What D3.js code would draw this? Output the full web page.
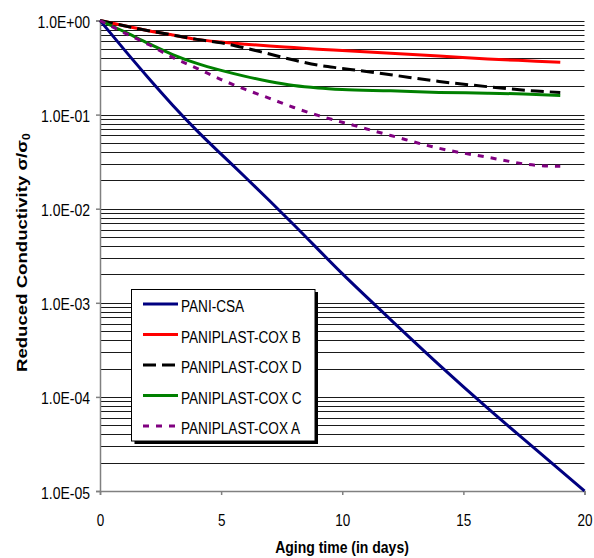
<!DOCTYPE html>
<html>
<head>
<meta charset="utf-8">
<script src="https://cdn.jsdelivr.net/npm/d3@7"></script>
<style>
  html, body { margin: 0; padding: 0; background: #fff; }
  svg { display: block; }
  text { font-family: "Liberation Sans", Arial, sans-serif; fill: #000; }
</style>
</head>
<body>
<svg id="chart" width="594" height="558"></svg>
<script>
// ---- data ----
const xTicks = [0, 5, 10, 15, 20];
const xTickLabels = ["0", "5", "10", "15", "20"];
const yTicks = [1e-5, 1e-4, 1e-3, 1e-2, 1e-1, 1];
const yTickLabels = ["1.0E-05", "1.0E-04", "1.0E-03", "1.0E-02", "1.0E-01", "1.0E+00"];

const csaDays = [0, 1, 2, 3, 4, 5, 6, 7, 8, 10, 12, 14, 16, 18, 20];
const csaValues = [1, 0.49, 0.245, 0.126, 0.0676, 0.038, 0.0216, 0.01216, 0.00676, 0.00204, 0.000661, 0.000219, 0.0000759, 0.0000275, 0.00001];

const coxDays = [0, 1, 2, 3, 4, 5, 6, 7, 8, 9, 10, 12, 14, 16, 18, 19];
const coxBValues = [1, 0.88, 0.78, 0.70, 0.63, 0.59, 0.56, 0.535, 0.515, 0.495, 0.48, 0.45, 0.42, 0.39, 0.37, 0.36];
const coxDValues = [1, 0.88, 0.78, 0.70, 0.63, 0.58, 0.51, 0.44, 0.38, 0.335, 0.31, 0.265, 0.225, 0.198, 0.178, 0.172];
const coxCValues = [1, 0.76, 0.57, 0.435, 0.35, 0.295, 0.255, 0.225, 0.204, 0.192, 0.185, 0.179, 0.172, 0.169, 0.164, 0.16];
const coxAValues = [1, 0.74, 0.556, 0.405, 0.31, 0.236, 0.185, 0.149, 0.119, 0.098, 0.083, 0.060, 0.0438, 0.0352, 0.0289, 0.0282];

const seriesNames = ["PANI-CSA", "PANIPLAST-COX B", "PANIPLAST-COX D", "PANIPLAST-COX C", "PANIPLAST-COX A"];

// ---- build ----
const series = [
  { name: seriesNames[0], days: csaDays, values: csaValues, color: "#000080", dash: null },
  { name: seriesNames[1], days: coxDays, values: coxBValues, color: "#ff0000", dash: null },
  { name: seriesNames[2], days: coxDays, values: coxDValues, color: "#000000", dash: "13,6" },
  { name: seriesNames[3], days: coxDays, values: coxCValues, color: "#008000", dash: null },
  { name: seriesNames[4], days: coxDays, values: coxAValues, color: "#800080", dash: "6,7" }
];

const svg = d3.select("#chart");
const x = d3.scaleLinear().domain([0, 20]).range([100, 584.5]);
const y = d3.scaleLog().domain([1e-5, 1]).range([491, 20.5]);

// gridlines (major + minor)
const gridVals = [];
for (let e = -5; e < 0; e++) for (let k = 1; k <= 9; k++) gridVals.push(k * Math.pow(10, e));
gridVals.push(1);
svg.append("g").selectAll("line").data(gridVals).join("line")
  .attr("x1", x(0)).attr("x2", x(20))
  .attr("y1", d => Math.round(y(d)) + 0.5).attr("y2", d => Math.round(y(d)) + 0.5)
  .attr("stroke", "#1a1a1a").attr("stroke-width", 1);

// axes
const yAxis = svg.append("g").attr("transform", `translate(${x(0)},0)`)
  .call(d3.axisLeft(y).tickValues(yTicks).tickSize(4).tickFormat((d, i) => yTickLabels[i]));
const xAxis = svg.append("g").attr("transform", `translate(0,${y(1e-5)})`)
  .call(d3.axisBottom(x).tickValues(xTicks).tickSize(4).tickFormat((d, i) => xTickLabels[i]));
[yAxis, xAxis].forEach(a => {
  a.select(".domain").attr("stroke", "#808080").attr("stroke-width", 1.5);
  a.selectAll(".tick line").attr("stroke", "#808080").attr("stroke-width", 1.5);
});
yAxis.selectAll(".tick text")
  .attr("x", null).attr("dy", null).attr("y", null)
  .attr("font-size", 14).attr("text-anchor", "end").style("font-family", "Liberation Sans, Arial, sans-serif")
  .attr("transform", "translate(-10,7) scale(1,1.18)");
xAxis.selectAll(".tick text")
  .attr("y", null).attr("dy", null)
  .attr("font-size", 13.5).attr("text-anchor", "middle").style("font-family", "Liberation Sans, Arial, sans-serif")
  .attr("transform", "translate(0,35) scale(1,1.2)");

// lines
const line = d3.line().curve(d3.curveMonotoneX);
series.forEach(s => {
  svg.append("path")
    .attr("d", line(s.days.map((d, i) => [x(d), y(s.values[i])])))
    .attr("fill", "none")
    .attr("stroke", s.color)
    .attr("stroke-width", 3)
    .attr("stroke-dasharray", s.dash);
});

// axis titles
svg.append("text")
  .attr("transform", "translate(342,553) scale(1,1.2)")
  .attr("text-anchor", "middle").attr("font-size", 14).attr("font-weight", "bold")
  .text("Aging time (in days)");

const yt = svg.append("text")
  .attr("transform", "translate(26.5,372) rotate(-90) scale(1.2,1)")
  .attr("text-anchor", "start").attr("font-size", 15.5).attr("font-weight", "bold");
yt.append("tspan").text("Reduced Conductivity σ/σ");
yt.append("tspan").attr("font-size", 10).attr("dy", 3).text("0");

// legend
const lg = svg.append("g");
lg.append("rect").attr("x", 134.5).attr("y", 292).attr("width", 183.5).attr("height", 152).attr("fill", "#000");
lg.append("rect").attr("x", 131.5).attr("y", 289.5).attr("width", 183.5).attr("height", 151.5)
  .attr("fill", "#fff").attr("stroke", "#000").attr("stroke-width", 1);
series.forEach((s, i) => {
  const ly = 304 + i * 30.5;
  lg.append("line").attr("x1", 143).attr("x2", 178).attr("y1", ly).attr("y2", ly)
    .attr("stroke", s.color).attr("stroke-width", 3).attr("stroke-dasharray", s.dash);
  lg.append("text").attr("transform", `translate(181,${ly + 8}) scale(1,1.28)`)
    .attr("font-size", 13.6).text(s.name);
});
</script>
</body>
</html>
